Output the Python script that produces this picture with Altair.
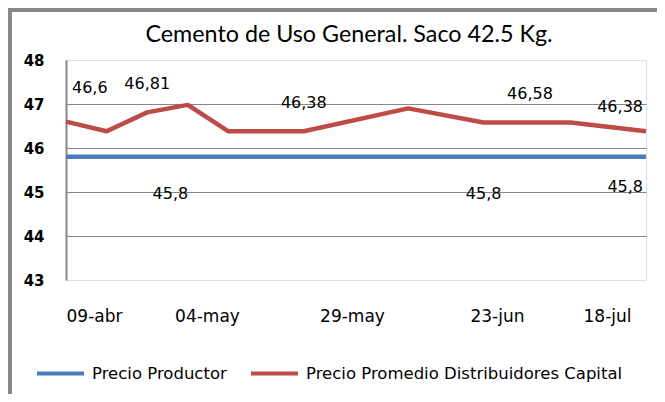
import altair as alt
import pandas as pd

title_text = "Cemento de Uso General. Saco 42.5 Kg."
series_names = ["Precio Productor", "Precio Promedio Distribuidores Capital"]
series_colors = ["#4A7EBB", "#BE4B48"]

dates = ["2013-04-09", "2013-04-16", "2013-04-23", "2013-04-30", "2013-05-07", "2013-05-14",
         "2013-05-20", "2013-06-07", "2013-06-20", "2013-06-28", "2013-07-05", "2013-07-18"]
red_values = [46.6, 46.38, 46.81, 46.98, 46.38, 46.38, 46.38, 46.9, 46.58, 46.58, 46.58, 46.38]
blue_values = [45.8, 45.8, 45.8, 45.8, 45.8, 45.8, 45.8, 45.8, 45.8, 45.8, 45.8, 45.8]

x_tick_dates = ["2013-04-09", "2013-05-04", "2013-05-29", "2013-06-23", "2013-07-18"]
x_tick_labels = ["09-abr", "04-may", "29-may", "23-jun", "18-jul"]
y_ticks = [43, 44, 45, 46, 47, 48]

red_label_dates = ["2013-04-09", "2013-04-23", "2013-05-20", "2013-06-28", "2013-07-18"]
red_label_values = [46.6, 46.81, 46.38, 46.58, 46.38]
red_label_texts = ["46,6", "46,81", "46,38", "46,58", "46,38"]
blue_label_dates = ["2013-04-27", "2013-06-20", "2013-07-18"]
blue_label_values = [45.8, 45.8, 45.8]
blue_label_texts = ["45,8", "45,8", "45,8"]


def dt(s):
    y, m, d = (int(v) for v in s.split("-"))
    return alt.DateTime(year=y, month=m, date=d, utc=True)


lines_df = pd.DataFrame({
    "fecha": dates + dates,
    "valor": blue_values + red_values,
    "serie": [series_names[0]] * len(dates) + [series_names[1]] * len(dates),
})


def anchor_of(d):
    if d == dates[0]:
        return "left"
    if d == dates[-1]:
        return "right"
    return "center"


labels_df = pd.DataFrame({
    "fecha": red_label_dates + blue_label_dates,
    "valor": red_label_values + blue_label_values,
    "texto": red_label_texts + blue_label_texts,
    "serie": ["red"] * len(red_label_dates) + ["blue"] * len(blue_label_dates),
    "anchor": [anchor_of(d) for d in red_label_dates] + [anchor_of(d) for d in blue_label_dates],
})

n_ticks = len(x_tick_labels)
label_expr = f"{x_tick_labels}[round(datum.index*{n_ticks - 1})]"

x_enc = alt.X(
    "fecha:T",
    scale=alt.Scale(type="utc", domain=[dt(dates[0]), dt(dates[-1])]),
    axis=alt.Axis(
        values=[dt(d) for d in x_tick_dates],
        labelExpr=label_expr,
        title=None, domain=False, ticks=False, grid=False,
        labelFont="DejaVu Sans", labelFontSize=17, labelColor="black",
        labelPadding=28, labelOffset=alt.expr("datum.index == 1 ? -15 : (datum.index == 0 ? 0 : -4)"),
    ),
)
y_enc = alt.Y(
    "valor:Q",
    scale=alt.Scale(domain=[y_ticks[0], y_ticks[-1]], nice=False, zero=False),
    axis=alt.Axis(
        values=y_ticks, title=None, ticks=False,
        domainColor="#868686", domainWidth=2,
        gridColor="#868686", gridWidth=1,
        gridOpacity=alt.expr(f"datum.value == {y_ticks[0]} || datum.value == {y_ticks[-1]} ? 0 : 1"),
        labelFont="DejaVu Sans", labelFontWeight="bold", labelFontSize=15,
        labelColor="black", labelPadding=22,
    ),
)

lines = alt.Chart(lines_df).mark_line(strokeWidth=4.5, strokeJoin="round").encode(
    x=x_enc,
    y=y_enc,
    color=alt.Color(
        "serie:N",
        scale=alt.Scale(domain=series_names, range=series_colors),
        legend=alt.Legend(
            title=None, orient="none", legendX=-31, legendY=288, direction="horizontal",
            symbolType="stroke", symbolStrokeWidth=4, symbolSize=47 * 47,
            labelFont="DejaVu Sans", labelFontSize=16.5, labelColor="black",
            labelOffset=6, columnPadding=16, labelLimit=500,
        ),
    ),
)

offsets = {"red": {"left": (6, -34), "center": (0, -28), "right": (-3, -24)},
           "blue": {"left": (6, 37), "center": (0, 37), "right": (-3, 30)}}

text_layers = []
for s in ["red", "blue"]:
    for a in ["left", "center", "right"]:
        dx, dy = offsets[s][a]
        text_layers.append(
            alt.Chart(labels_df).transform_filter(
                f"datum.serie == '{s}' && datum.anchor == '{a}'"
            ).mark_text(
                font="DejaVu Sans", fontSize=16, color="black", align=a, baseline="middle",
                dx=dx, dy=dy,
            ).encode(
                x=alt.X("fecha:T", scale=alt.Scale(type="utc")),
                y=alt.Y("valor:Q"),
                text="texto:N",
            )
        )

title_mark = alt.Chart(pd.DataFrame({"t": [title_text]})).mark_text(
    font="Lato", fontSize=23.3, color="black", align="center", baseline="middle"
).encode(x=alt.value(283), y=alt.value(-25), text="t:N")

frame_left = alt.Chart(lines_df).mark_rule(color="#878787", strokeWidth=3).encode(
    x=alt.value(-56), y=alt.value(-52), y2=alt.value(345)
)
frame_top = alt.Chart(lines_df).mark_rule(color="#878787", strokeWidth=3).encode(
    x=alt.value(-58), x2=alt.value(600), y=alt.value(-50)
)

chart = alt.layer(lines, *text_layers, title_mark, frame_left, frame_top).properties(
    width=580,
    height=220,
    autosize=alt.AutoSizeParams(type="none"),
    padding={"left": 58, "top": 52, "right": 11, "bottom": 114},
).configure_view(stroke=None).configure(background="white")

chart.save("out.html", embed_options={"renderer": "svg", "actions": False})
